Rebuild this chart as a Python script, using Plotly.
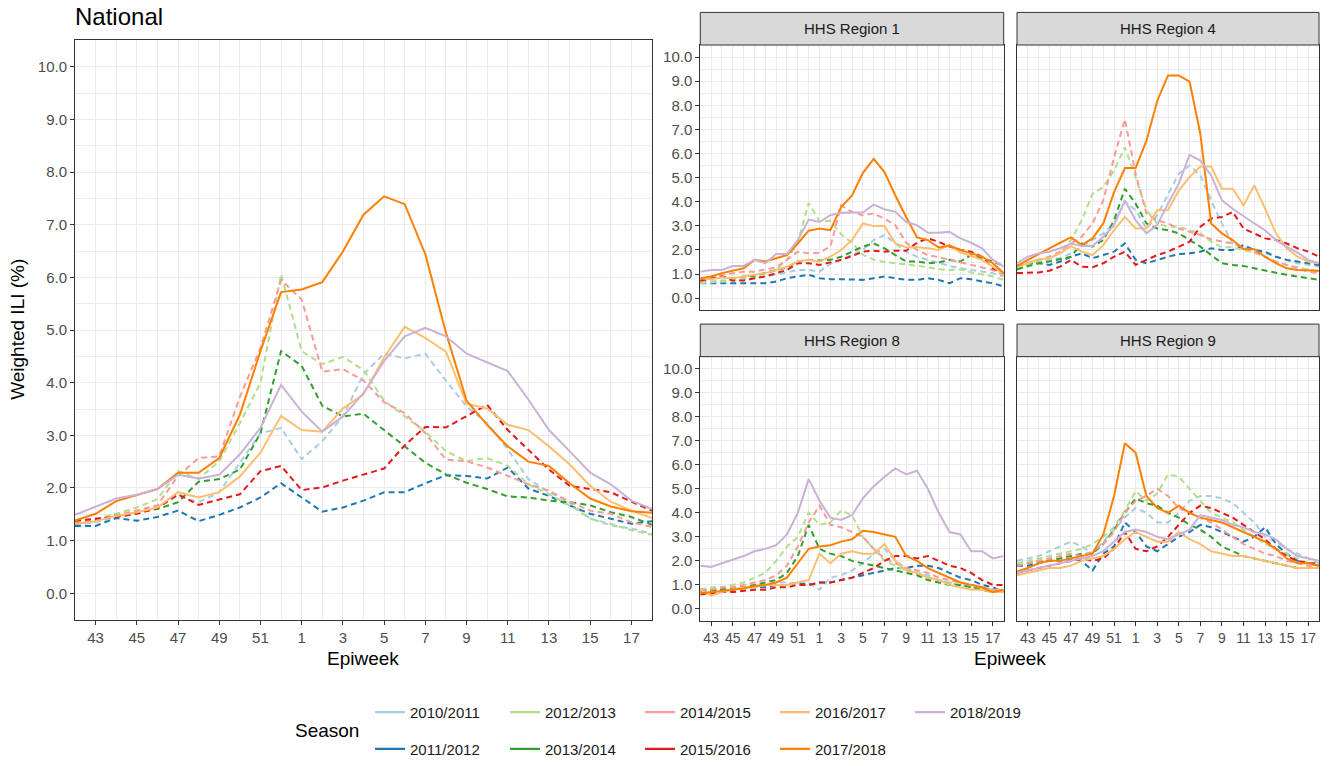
import plotly.graph_objects as go

# ---------------- data ----------------
weeks = [42, 43, 44, 45, 46, 47, 48, 49, 50, 51, 52, 1, 2, 3, 4, 5, 6, 7, 8, 9, 10, 11, 12, 13, 14, 15, 16, 17, 18]
tick_weeks = [43, 45, 47, 49, 51, 1, 3, 5, 7, 9, 11, 13, 15, 17]
y_ticks = [0, 1, 2, 3, 4, 5, 6, 7, 8, 9, 10]

seasons = ["2010/2011", "2011/2012", "2012/2013", "2013/2014", "2014/2015",
           "2015/2016", "2016/2017", "2017/2018", "2018/2019"]
colors = ["#A6CEE3", "#1F78B4", "#B2DF8A", "#33A02C", "#FB9A99",
          "#E31A1C", "#FDBF6F", "#FF7F00", "#CAB2D6"]
dashed = [True, True, True, True, True, True, False, False, False]

national = {
    "2010/2011": [1.29, 1.35, 1.45, 1.54, 1.63, 1.85, 1.73, 1.92, 2.48, 3.04, 3.14, 2.55, 2.89, 3.36, 4.16, 4.55, 4.46, 4.55, 4.04, 3.55, 3.23, 2.73, 2.17, 1.92, 1.73, 1.42, 1.29, 1.23, 1.13],
    "2011/2012": [1.28, 1.28, 1.43, 1.38, 1.45, 1.57, 1.37, 1.49, 1.63, 1.82, 2.09, 1.82, 1.55, 1.63, 1.76, 1.92, 1.92, 2.09, 2.24, 2.23, 2.18, 2.39, 1.99, 1.85, 1.67, 1.51, 1.42, 1.32, 1.37],
    "2012/2013": [1.34, 1.41, 1.51, 1.63, 1.79, 2.32, 2.17, 2.51, 3.23, 4.0, 6.06, 4.6, 4.35, 4.49, 4.24, 3.66, 3.36, 3.07, 2.7, 2.51, 2.57, 2.42, 2.07, 1.88, 1.67, 1.42, 1.32, 1.2, 1.11],
    "2013/2014": [1.32, 1.38, 1.48, 1.54, 1.6, 1.73, 2.12, 2.17, 2.35, 3.04, 4.6, 4.32, 3.56, 3.36, 3.41, 3.1, 2.79, 2.48, 2.26, 2.1, 1.98, 1.84, 1.82, 1.76, 1.73, 1.67, 1.54, 1.45, 1.3],
    "2014/2015": [1.37, 1.4, 1.48, 1.57, 1.67, 2.23, 2.57, 2.6, 3.73, 4.66, 5.95, 5.58, 4.21, 4.26, 4.04, 3.63, 3.42, 3.04, 2.54, 2.51, 2.39, 2.23, 2.07, 1.95, 1.74, 1.57, 1.51, 1.35, 1.26],
    "2015/2016": [1.38, 1.41, 1.45, 1.51, 1.62, 1.88, 1.68, 1.78, 1.88, 2.32, 2.42, 1.96, 2.01, 2.14, 2.25, 2.37, 2.81, 3.16, 3.15, 3.36, 3.58, 3.1, 2.73, 2.35, 2.04, 1.98, 1.92, 1.74, 1.57],
    "2016/2017": [1.32, 1.37, 1.47, 1.54, 1.63, 1.92, 1.82, 1.92, 2.22, 2.67, 3.37, 3.1, 3.07, 3.51, 3.78, 4.48, 5.06, 4.85, 4.59, 3.6, 3.51, 3.2, 3.1, 2.79, 2.45, 2.04, 1.74, 1.57, 1.43],
    "2017/2018": [1.38, 1.51, 1.75, 1.87, 1.98, 2.29, 2.29, 2.57, 3.39, 4.6, 5.72, 5.77, 5.91, 6.49, 7.19, 7.54, 7.39, 6.44, 4.95, 3.66, 3.2, 2.79, 2.5, 2.42, 2.09, 1.8, 1.65, 1.56, 1.53],
    "2018/2019": [1.49, 1.65, 1.8, 1.87, 1.98, 2.25, 2.18, 2.25, 2.64, 3.14, 3.96, 3.45, 3.07, 3.36, 3.8, 4.41, 4.88, 5.04, 4.88, 4.55, 4.38, 4.22, 3.68, 3.1, 2.7, 2.29, 2.07, 1.76, 1.6],
}

region1 = {
    "2010/2011": [0.69, 0.69, 0.73, 0.73, 0.83, 0.83, 0.9, 0.97, 1.07, 1.17, 1.17, 1.1, 1.42, 1.59, 1.79, 2.0, 2.41, 2.62, 2.27, 1.93, 1.72, 1.59, 1.45, 1.34, 1.24, 1.17, 1.1, 1.04, 0.9],
    "2011/2012": [0.62, 0.62, 0.65, 0.65, 0.62, 0.65, 0.62, 0.69, 0.83, 0.9, 0.97, 0.83, 0.79, 0.79, 0.76, 0.76, 0.83, 0.9, 0.83, 0.76, 0.76, 0.83, 0.76, 0.62, 0.83, 0.79, 0.69, 0.62, 0.49],
    "2012/2013": [0.62, 0.65, 0.69, 0.73, 0.79, 0.9, 1.04, 1.2, 1.6, 2.3, 3.95, 3.2, 3.2, 2.65, 2.3, 1.8, 1.6, 1.5, 1.45, 1.42, 1.35, 1.28, 1.2, 1.17, 1.2, 1.07, 0.97, 0.9, 0.76],
    "2013/2014": [0.73, 0.83, 0.9, 0.83, 0.9, 0.93, 1.04, 1.17, 1.28, 1.52, 1.59, 1.56, 1.59, 1.72, 1.93, 2.14, 2.27, 2.07, 1.79, 1.52, 1.52, 1.45, 1.48, 1.59, 1.52, 1.79, 1.66, 1.52, 1.34],
    "2014/2015": [0.69, 0.9, 0.97, 1.04, 1.1, 1.1, 1.2, 1.28, 1.59, 1.93, 1.86, 1.89, 2.14, 3.85, 3.58, 3.44, 3.51, 3.3, 3.03, 2.3, 2.0, 1.79, 1.7, 1.59, 1.48, 1.38, 1.28, 1.17, 0.97],
    "2015/2016": [0.73, 0.83, 0.9, 0.73, 0.73, 0.83, 0.9, 1.04, 1.17, 1.45, 1.45, 1.38, 1.48, 1.59, 1.75, 1.93, 1.97, 1.93, 1.97, 1.97, 2.3, 2.48, 2.34, 2.14, 2.0, 1.93, 1.72, 1.24, 1.04],
    "2016/2017": [0.83, 0.79, 0.87, 0.83, 0.9, 0.97, 1.04, 1.17, 1.31, 1.52, 1.59, 1.52, 1.72, 2.0, 2.41, 3.1, 2.99, 2.99, 2.27, 2.11, 2.11, 2.07, 2.0, 2.2, 1.89, 1.75, 1.59, 1.31, 1.01],
    "2017/2018": [0.83, 0.9, 1.04, 1.13, 1.24, 1.59, 1.52, 1.66, 1.79, 2.27, 2.8, 2.89, 2.82, 3.78, 4.26, 5.19, 5.78, 5.23, 4.26, 3.37, 2.52, 2.41, 2.1, 2.18, 2.0, 1.86, 1.72, 1.45, 1.04],
    "2018/2019": [1.1, 1.17, 1.17, 1.34, 1.34, 1.59, 1.45, 1.83, 1.83, 2.41, 3.26, 3.16, 3.44, 3.54, 3.55, 3.55, 3.88, 3.69, 3.58, 3.16, 3.03, 2.71, 2.71, 2.75, 2.48, 2.3, 2.07, 1.59, 1.31],
}

region4 = {
    "2010/2011": [1.24, 1.38, 1.52, 1.59, 1.66, 1.86, 2.14, 2.41, 2.69, 3.1, 3.99, 3.65, 2.89, 3.44, 4.33, 5.16, 5.5, 5.09, 4.06, 3.1, 2.27, 2.14, 2.0, 1.86, 1.72, 1.59, 1.45, 1.38, 1.31],
    "2011/2012": [1.34, 1.45, 1.45, 1.38, 1.52, 1.72, 1.86, 1.66, 1.79, 1.93, 2.27, 1.59, 1.45, 1.59, 1.72, 1.83, 1.86, 1.93, 2.07, 2.0, 2.0, 2.2, 2.0, 1.93, 1.72, 1.59, 1.52, 1.45, 1.38],
    "2012/2013": [1.17, 1.38, 1.52, 1.66, 1.89, 2.41, 3.23, 4.33, 4.61, 5.3, 6.26, 5.02, 3.65, 3.1, 2.96, 2.96, 2.82, 2.69, 2.34, 2.11, 2.11, 2.0, 1.89, 1.72, 1.52, 1.38, 1.28, 1.17, 1.1],
    "2013/2014": [1.2, 1.34, 1.45, 1.52, 1.62, 1.72, 2.27, 2.14, 2.41, 3.23, 4.54, 3.92, 3.1, 2.89, 2.82, 2.69, 2.41, 2.14, 1.79, 1.45, 1.38, 1.34, 1.24, 1.14, 1.04, 0.97, 0.9, 0.83, 0.76],
    "2014/2015": [1.34, 1.45, 1.59, 1.72, 1.93, 2.27, 2.55, 3.1, 4.06, 5.84, 7.42, 5.16, 3.51, 3.23, 3.1, 2.89, 2.75, 2.62, 2.44, 2.34, 2.27, 2.11, 1.93, 1.72, 1.52, 1.38, 1.24, 1.1, 1.04],
    "2015/2016": [1.04, 1.04, 1.07, 1.14, 1.31, 1.59, 1.31, 1.28, 1.45, 1.72, 1.93, 1.38, 1.59, 1.79, 1.93, 2.14, 2.34, 2.96, 3.3, 3.37, 3.58, 2.89, 2.69, 2.48, 2.41, 2.27, 2.07, 1.93, 1.72],
    "2016/2017": [1.28, 1.45, 1.62, 1.66, 1.86, 2.16, 1.93, 1.79, 2.2, 2.82, 3.37, 2.89, 2.89, 3.65, 3.65, 4.47, 5.02, 5.46, 5.46, 4.54, 4.54, 3.85, 4.68, 3.72, 2.69, 2.07, 1.72, 1.52, 1.45],
    "2017/2018": [1.34, 1.59, 1.83, 2.07, 2.3, 2.52, 2.2, 2.48, 3.1, 4.4, 5.4, 5.4, 6.53, 8.18, 9.24, 9.24, 8.98, 6.81, 3.1, 2.69, 2.41, 2.03, 2.03, 1.72, 1.45, 1.24, 1.17, 1.14, 1.14],
    "2018/2019": [1.45, 1.72, 1.86, 1.93, 2.07, 2.27, 2.16, 2.16, 2.55, 3.03, 4.06, 3.23, 2.69, 3.03, 3.92, 4.75, 5.94, 5.71, 5.09, 4.06, 3.71, 3.4, 3.1, 2.82, 2.41, 2.14, 1.89, 1.59, 1.45],
}

region8 = {
    "2010/2011": [0.8, 0.8, 0.85, 0.9, 0.9, 1.0, 1.0, 1.1, 1.1, 1.0, 1.1, 0.8, 1.3, 1.4, 1.6, 1.9, 2.3, 2.5, 2.0, 1.7, 1.5, 1.4, 1.2, 1.1, 1.0, 0.9, 0.8, 0.8, 0.7],
    "2011/2012": [0.8, 0.8, 0.8, 0.8, 0.9, 0.9, 0.9, 1.0, 1.0, 1.1, 1.0, 1.1, 1.1, 1.2, 1.3, 1.4, 1.5, 1.6, 1.7, 1.7, 1.8, 1.8, 1.7, 1.5, 1.3, 1.2, 1.0, 0.9, 0.7],
    "2012/2013": [0.8, 0.9, 0.9, 1.0, 1.1, 1.3, 1.5, 2.0, 2.6, 3.0, 4.0, 3.5, 3.6, 4.1, 3.9, 3.0, 2.5, 2.0, 1.8, 1.6, 1.5, 1.3, 1.2, 1.1, 1.0, 0.9, 0.9, 0.8, 0.8],
    "2013/2014": [0.7, 0.75, 0.8, 0.85, 0.9, 1.0, 1.1, 1.2, 1.5, 2.2, 3.5, 2.5, 2.3, 2.2, 2.0, 1.9, 1.8, 1.7, 1.6, 1.5, 1.4, 1.2, 1.1, 1.0, 1.0, 0.9, 0.8, 0.7, 0.7],
    "2014/2015": [0.8, 0.8, 0.9, 0.9, 1.0, 1.1, 1.2, 1.4, 1.8, 2.6, 3.6, 4.3, 3.5, 3.4, 3.2, 3.0, 2.5, 2.1, 1.9, 1.7, 1.6, 1.5, 1.3, 1.2, 1.1, 1.0, 0.9, 0.8, 0.8],
    "2015/2016": [0.6, 0.65, 0.7, 0.7, 0.75, 0.8, 0.8, 0.9, 0.9, 1.0, 1.0, 1.1, 1.1, 1.2, 1.3, 1.5, 1.7, 2.0, 2.2, 2.2, 2.1, 2.2, 2.0, 1.8, 1.7, 1.5, 1.2, 1.0, 1.0],
    "2016/2017": [0.8, 0.55, 0.7, 0.8, 0.9, 0.9, 1.0, 1.0, 1.0, 1.1, 1.2, 2.3, 1.9, 2.3, 2.4, 2.3, 2.3, 2.7, 2.0, 1.6, 1.5, 1.3, 1.2, 1.0, 0.9, 0.8, 0.8, 0.7, 0.7],
    "2017/2018": [0.65, 0.7, 0.75, 0.8, 0.85, 0.95, 1.0, 1.1, 1.3, 1.9, 2.5, 2.6, 2.65, 2.8, 2.9, 3.25, 3.2, 3.1, 3.0, 2.2, 2.0, 1.7, 1.5, 1.3, 1.1, 1.0, 0.9, 0.7, 0.8],
    "2018/2019": [1.8, 1.75, 1.9, 2.05, 2.2, 2.4, 2.5, 2.65, 3.1, 4.0, 5.4, 4.5, 3.8, 3.7, 3.9, 4.6, 5.1, 5.5, 5.85, 5.6, 5.75, 5.0, 4.0, 3.2, 3.1, 2.4, 2.4, 2.1, 2.2],
}

region9 = {
    "2010/2011": [2.0, 2.1, 2.2, 2.4, 2.6, 2.8, 2.6, 2.3, 2.8, 3.3, 3.8, 4.2, 4.0, 3.6, 3.6, 4.0, 4.5, 4.7, 4.7, 4.6, 4.4, 4.0, 3.6, 3.0, 2.8, 2.5, 2.3, 2.1, 1.9],
    "2011/2012": [1.8, 1.8, 1.9, 2.0, 2.0, 2.1, 2.0, 1.6, 2.3, 2.6, 3.6, 3.2, 2.6, 2.4, 2.7, 3.0, 3.2, 3.5, 3.4, 3.2, 3.0, 2.8, 3.0, 3.4, 2.7, 2.3, 2.0, 1.9, 1.8],
    "2012/2013": [1.9, 2.0, 2.1, 2.2, 2.3, 2.4, 2.5, 2.7, 3.0, 3.4, 4.1, 4.9, 4.5, 4.8, 5.6, 5.5, 5.0, 4.5, 4.0, 3.8, 3.6, 3.3, 3.0, 2.7, 2.5, 2.3, 2.1, 1.9, 1.8],
    "2013/2014": [1.8, 1.9, 2.0, 2.0, 2.1, 2.2, 2.3, 2.3, 2.7, 3.3, 4.0, 4.6, 4.4, 4.3, 4.0, 3.8, 3.5, 3.3, 3.0, 2.6, 2.4, 2.2, 2.1, 2.0, 1.9, 1.8, 1.7, 1.7, 1.7],
    "2014/2015": [1.8, 1.9, 2.0, 2.1, 2.2, 2.3, 2.2, 2.4, 2.7, 3.2, 4.0, 4.5, 4.7, 5.0, 4.7, 4.2, 4.0, 3.8, 3.6, 3.3, 3.0, 2.7, 2.5, 2.3, 2.2, 2.0, 1.9, 1.8, 1.7],
    "2015/2016": [1.5, 1.6, 1.7, 1.8, 1.9, 2.0, 2.1, 2.0, 2.1, 2.5, 3.2, 2.5, 2.4, 2.6, 3.0, 3.5, 4.0, 4.3, 4.2, 4.0, 3.8, 3.5, 3.2, 2.9, 2.5, 2.2, 2.0, 1.9, 1.9],
    "2016/2017": [1.4, 1.5, 1.6, 1.7, 1.7, 1.8, 2.0, 2.1, 2.2, 2.5, 2.9, 3.2, 3.0, 2.8, 2.8, 3.2, 2.9, 2.7, 2.4, 2.3, 2.2, 2.2, 2.1, 2.0, 1.9, 1.8, 1.7, 1.7, 1.7],
    "2017/2018": [1.55, 1.7, 1.9, 2.0, 2.0, 2.1, 2.2, 2.3, 3.1, 4.7, 6.9, 6.5, 4.7, 4.2, 4.0, 4.3, 4.0, 3.8, 3.7, 3.6, 3.4, 3.2, 3.0, 2.8, 2.5, 2.1, 1.9, 1.9, 1.8],
    "2018/2019": [1.5, 1.6, 1.7, 1.8, 1.9, 2.0, 2.1, 2.2, 2.4, 2.8, 3.2, 3.3, 3.2, 3.0, 2.9, 3.1, 3.3, 3.9, 3.8, 3.7, 3.5, 3.4, 3.2, 3.1, 2.9, 2.5, 2.2, 2.1, 2.0],
}

panel_titles = ["HHS Region 1", "HHS Region 4", "HHS Region 8", "HHS Region 9"]

# ---------------- layout geometry (pixels) ----------------
W, H = 1334, 766
def px(x):
    return x / W
def py(y):
    return 1 - y / H

nat_box = (75, 652, 40.7, 623.7)
facet_boxes = [
    (700.3, 1003.7, 45.3, 312.3),
    (1017, 1319, 45.3, 312.3),
    (700.3, 1003.7, 359, 625),
    (1017, 1319, 359, 625),
]
strip_h = 32.8

x_index = list(range(len(weeks)))
tick_idx = [weeks.index(w) for w in tick_weeks]
tick_txt = [str(w) for w in tick_weeks]

GRID = "#EBEBEB"
BORDER = "#333333"
TICKCOL = "#4D4D4D"
FONT = "Liberation Sans, Arial, sans-serif"

fig = go.Figure()

datasets = [national, region1, region4, region8, region9]
axis_suffix = ["", "2", "3", "4", "5"]

for d, suf in zip(datasets, axis_suffix):
    for s, c, dsh in zip(seasons, colors, dashed):
        fig.add_trace(go.Scatter(
            x=x_index, y=d[s], mode="lines",
            line=dict(color=c, width=2, dash="6px,4px" if dsh else "solid"),
            xaxis="x" + suf, yaxis="y" + suf,
            showlegend=False, hoverinfo="skip",
        ))

# legend-only entries (solid keys), two rows ordered column-wise
for k, (s, c) in enumerate(zip(seasons, colors)):
    fig.add_trace(go.Scatter(
        x=[None], y=[None], mode="lines", name=s,
        line=dict(color=c, width=2.2),
        legend="legend" if k % 2 == 0 else "legend2",
        showlegend=True,
    ))

def xaxis_cfg(box, labels, big):
    return dict(
        domain=[px(box[0]), px(box[1])], range=[0, len(weeks) - 1],
        tickvals=tick_idx, ticktext=tick_txt,
        showticklabels=labels, ticks="outside" if labels else "",
        ticklen=4, tickwidth=1, tickcolor=BORDER,
        tickfont=dict(size=15 if big else 14, color=TICKCOL, family=FONT),
        showgrid=True, gridcolor=GRID, gridwidth=1.4,
        minor=dict(dtick=1, tick0=0, showgrid=True, gridcolor=GRID, gridwidth=0.7, ticks=""),
        showline=True, mirror=True, linecolor=BORDER, linewidth=1,
        zeroline=False, fixedrange=True,
    )

def yaxis_cfg(box, labels):
    return dict(
        domain=[py(box[3]), py(box[2])], range=[-0.5, 10.5],
        tickvals=y_ticks, ticktext=["%.1f" % v for v in y_ticks],
        showticklabels=labels, ticks="outside" if labels else "",
        ticklen=4, tickwidth=1, tickcolor=BORDER,
        tickfont=dict(size=15, color=TICKCOL, family=FONT),
        showgrid=True, gridcolor=GRID, gridwidth=1.4,
        minor=dict(dtick=0.5, tick0=0, showgrid=True, gridcolor=GRID, gridwidth=0.7, ticks=""),
        showline=True, mirror=True, linecolor=BORDER, linewidth=1,
        zeroline=False, fixedrange=True,
    )

layout = dict(
    width=W, height=H, margin=dict(l=0, r=0, t=0, b=0),
    paper_bgcolor="white", plot_bgcolor="white",
    font=dict(family=FONT, color="black"),
    xaxis=xaxis_cfg(nat_box, True, True), yaxis=yaxis_cfg(nat_box, True),
)
label_flags = [(False, True), (False, False), (True, True), (True, False)]
for i, (box, (xl, yl)) in enumerate(zip(facet_boxes, label_flags)):
    n = str(i + 2)
    layout["xaxis" + n] = xaxis_cfg(box, xl, False)
    layout["yaxis" + n] = yaxis_cfg(box, yl)
    layout["xaxis" + n]["anchor"] = "y" + n
    layout["yaxis" + n]["anchor"] = "x" + n
layout["xaxis"]["anchor"] = "y"
layout["yaxis"]["anchor"] = "x"

leg_common = dict(
    orientation="h", xanchor="left", yanchor="middle",
    font=dict(size=15, color="#1A1A1A", family=FONT),
    bgcolor="rgba(0,0,0,0)", borderwidth=0,
    entrywidth=90, entrywidthmode="pixels", itemwidth=30,
    traceorder="normal",
)
layout["legend"] = dict(leg_common, x=px(370), y=py(717))
layout["legend2"] = dict(leg_common, x=px(370), y=py(754))

shapes = []
annotations = []
for box, title in zip(facet_boxes, panel_titles):
    shapes.append(dict(type="rect", xref="paper", yref="paper",
                       x0=px(box[0]), x1=px(box[1]),
                       y0=py(box[2]), y1=py(box[2] - strip_h),
                       fillcolor="#D9D9D9", line=dict(color=BORDER, width=1), layer="above"))
    annotations.append(dict(text=title, xref="paper", yref="paper",
                            x=px((box[0] + box[1]) / 2), y=py(box[2] - strip_h / 2),
                            xanchor="center", yanchor="middle", showarrow=False,
                            font=dict(size=15, color="#1A1A1A", family=FONT)))

annotations += [
    dict(text="National", xref="paper", yref="paper", x=px(73), y=py(17),
         xanchor="left", yanchor="middle", showarrow=False,
         font=dict(size=24, color="black", family=FONT)),
    dict(text="Weighted ILI (%)", xref="paper", yref="paper", x=px(18), y=py(332),
         xanchor="center", yanchor="middle", showarrow=False, textangle=-90,
         font=dict(size=19, color="black", family=FONT)),
    dict(text="Epiweek", xref="paper", yref="paper", x=px(363.5), y=py(663),
         xanchor="center", yanchor="middle", showarrow=False,
         font=dict(size=19, color="black", family=FONT)),
    dict(text="Epiweek", xref="paper", yref="paper", x=px(1009.7), y=py(663),
         xanchor="center", yanchor="middle", showarrow=False,
         font=dict(size=19, color="black", family=FONT)),
    dict(text="Season", xref="paper", yref="paper", x=px(293), y=py(735),
         xanchor="left", yanchor="middle", showarrow=False,
         font=dict(size=19, color="black", family=FONT)),
]
layout["shapes"] = shapes
layout["annotations"] = annotations

fig.update_layout(**layout)
fig.write_html("out.html", config={"displayModeBar": False},
               post_script="document.body.style.margin='0px';document.body.style.overflow='hidden';")
